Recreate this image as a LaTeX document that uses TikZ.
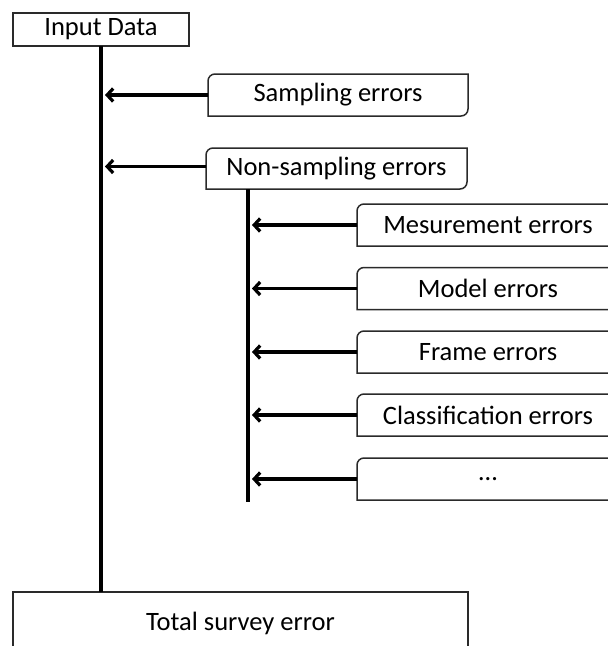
\documentclass[tikz,border=0pt]{standalone}
\usepackage{fontspec}
\setmainfont{Carlito}
\usetikzlibrary{arrows.meta}
\definecolor{boxgray}{HTML}{2A2A2A}
\tikzset{
  lbl/.style={draw=none, inner sep=0pt, outer sep=0pt, align=center,
    font=\fontsize{26.5}{31}\selectfont},
  plainbox/.style={lbl, draw=boxgray, line width=1.5pt},
  conn/.style={line width=3.6pt, black},
  arr/.style={line width=3.2pt, black, -{Straight Barb[length=6pt,width=13pt]}, shorten >=4pt},
  boxline/.style={draw=boxgray, line width=1.5pt}
}
\newcommand{\rdbox}[1]{%
  \draw[boxline] (#1.south west) -- ([yshift=-7pt]#1.north west)
    arc[start angle=180,end angle=90,radius=7pt] -- (#1.north east)
    -- ([yshift=7pt]#1.south east)
    arc[start angle=0,end angle=-90,radius=7pt] -- cycle;}
\begin{document}
\begin{tikzpicture}[x=1pt,y=-1pt]
\useasboundingbox (0,0) rectangle (608,646);
\fill[white] (0,0) rectangle (608,646);

\node[plainbox, minimum width=176pt, minimum height=33pt] (input) at (101,29.5) {Input Data};
\node[plainbox, minimum width=455pt, minimum height=62pt] (total) at (240.5,623) {Total survey error};

\node[lbl, minimum width=260pt, minimum height=42pt] (samp) at (338,95) {Sampling errors};
\node[lbl, minimum width=261pt, minimum height=41pt] (nons) at (336.5,168.5) {Non-sampling errors};
\node[lbl, minimum width=262pt, minimum height=42pt] (meas) at (488,225) {Mesurement errors};
\node[lbl, minimum width=262pt, minimum height=42pt] (model) at (488,288.5) {Model errors};
\node[lbl, minimum width=262pt, minimum height=42pt] (frame) at (488,352) {Frame errors};
\node[lbl, minimum width=262pt, minimum height=42pt] (class) at (488,415) {Classification errors};
\node[lbl, minimum width=262pt, minimum height=42pt] (dots) at (488,479) {\ldots};

\rdbox{samp}
\rdbox{nons}
\rdbox{meas}
\rdbox{model}
\rdbox{frame}
\rdbox{class}
\rdbox{dots}

% main line
\draw[conn] (input.south) -- (total.north -| input.south);
% secondary line
\coordinate (v2top) at ([xshift=42pt]nons.south west);
\coordinate (v2bot) at (248,502);
\draw[conn] (v2top) -- (v2bot);

\draw[arr] (samp.west) -- (samp.west -| input.south);
\draw[arr] ([yshift=2pt]nons.west) -- ([yshift=2pt]nons.west -| input.south);
\foreach \n in {meas,model,frame,class,dots}{
  \draw[arr] (\n.west) -- (\n.west -| v2top);
}
\end{tikzpicture}
\end{document}
